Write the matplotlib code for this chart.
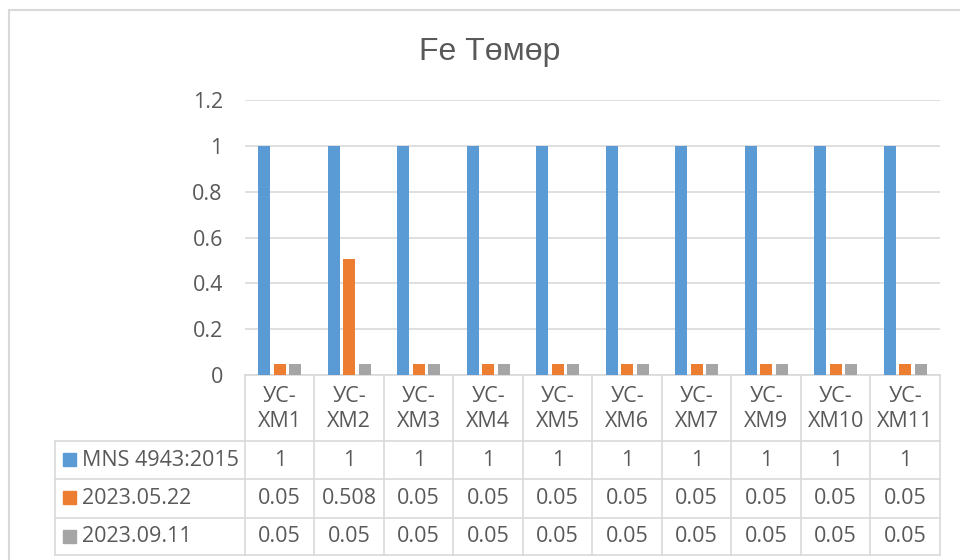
import matplotlib.pyplot as plt
import matplotlib.patches as mpatches
import matplotlib.transforms as mtransforms
import numpy as np

# data for the Fe chart with its data table
sites = ["УС-\nХМ1", "УС-\nХМ2", "УС-\nХМ3", "УС-\nХМ4", "УС-\nХМ5",
         "УС-\nХМ6", "УС-\nХМ7", "УС-\nХМ9", "УС-\nХМ10", "УС-\nХМ11"]
series_names = ["MNS 4943:2015", "2023.05.22", "2023.09.11"]
mns_limit = [1, 1, 1, 1, 1, 1, 1, 1, 1, 1]
may_2023 = [0.05, 0.508, 0.05, 0.05, 0.05, 0.05, 0.05, 0.05, 0.05, 0.05]
sep_2023 = [0.05, 0.05, 0.05, 0.05, 0.05, 0.05, 0.05, 0.05, 0.05, 0.05]
yticks = [0, 0.2, 0.4, 0.6, 0.8, 1, 1.2]
ytick_labels = ["0", "0.2", "0.4", "0.6", "0.8", "1", "1.2"]

colors = ["#5B9BD5", "#ED7D31", "#A5A5A5"]
text_col = "#595959"
grid_col = "#D9D9D9"
font = "Open Sans"
fs = 15.5

W, H = 960, 560
fig = plt.figure(figsize=(W / 100, H / 100), dpi=100)

# chart frame
fig.patches.append(mpatches.Rectangle((9 / W, -0.1), 1.1, 1 - 10 / H + 0.1,
                                      transform=fig.transFigure, fill=False,
                                      edgecolor=grid_col, linewidth=1.5))

left, right = 245 / W, 940 / W
bottom, top = 1 - 375 / H, 1 - 100 / H
ax = fig.add_axes([left, bottom, right - left, top - bottom])

n = len(sites)
x = np.arange(n)
width = 0.175
offset = 0.223
for i, vals in enumerate([mns_limit, may_2023, sep_2023]):
    ax.bar(x + (i - 1) * offset, vals, width, color=colors[i], zorder=3)

ax.set_xlim(-0.5, n - 0.5)
ax.set_ylim(0, 1.2)
ax.set_yticks(yticks)
ax.set_yticklabels(ytick_labels, fontsize=fs, color=text_col, family=font)
ax.tick_params(axis="y", length=0, pad=16)
ax.set_xticks([])
for s in ["top", "right", "left"]:
    ax.spines[s].set_visible(False)
ax.spines["bottom"].set_color(grid_col)
ax.spines["bottom"].set_linewidth(1.2)
ax.yaxis.grid(True, color=grid_col, linewidth=1.2, zorder=0)

fig.suptitle("Fe Төмөр", x=490 / W, y=1 - 52 / H, va="center",
             fontsize=23, color=text_col, family="Liberation Sans")

# data table below the axis: x in data units, y in figure units
trans = mtransforms.blended_transform_factory(ax.transData, fig.transFigure)
def yfig(py):
    return 1 - py / H

row_edges = [375, 441, 479, 518, 555]
legend_left = 55
for j in range(n + 1):
    ax.plot([j - 0.5, j - 0.5], [yfig(375), yfig(555)], transform=trans,
            color=grid_col, lw=1.2, clip_on=False)
fig.add_artist(plt.Line2D([legend_left / W, legend_left / W],
                          [yfig(441), yfig(555)], color=grid_col, lw=1.2))
for py in row_edges[1:]:
    fig.add_artist(plt.Line2D([legend_left / W, right], [yfig(py), yfig(py)],
                              color=grid_col, lw=1.2))

for j, name in enumerate(sites):
    ax.text(j, yfig(409), name, transform=trans, ha="center", va="center",
            fontsize=fs, color=text_col, family=font, linespacing=1.25)

rows = [mns_limit, may_2023, sep_2023]
row_centers = [460, 498, 537]
for i, (vals, yc) in enumerate(zip(rows, row_centers)):
    for j, v in enumerate(vals):
        ax.text(j, yfig(yc), f"{v:g}", transform=trans, ha="center",
                va="center", fontsize=fs, color=text_col, family=font)
    fig.patches.append(mpatches.Rectangle((63 / W, yfig(yc + 6)), 13 / W, 13 / H,
                                          transform=fig.transFigure,
                                          color=colors[i]))
    fig.text(82 / W, yfig(yc), series_names[i], ha="left", va="center",
             fontsize=fs, color=text_col, family=font)

fig.savefig("out.png", dpi=100)
